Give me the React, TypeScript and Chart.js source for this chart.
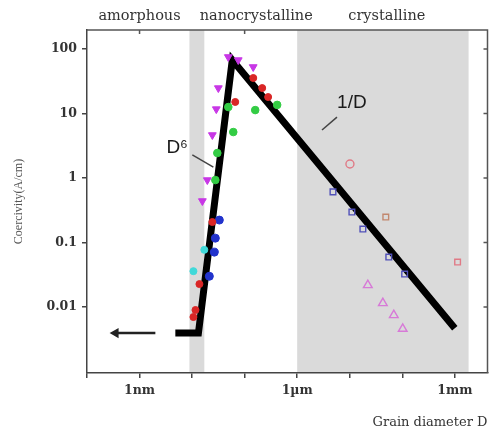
import React, { useEffect, useRef } from 'react';
import { Chart, registerables } from 'chart.js';

Chart.register(...registerables);

// ---- axes ----
const xTickValues = [0.1, 1, 10, 100, 1e3, 1e4, 1e5, 1e6];
const xLabelValues = [1, 1e3, 1e6];
const xLabelTexts = ['1nm', '1µm', '1mm'];
const xMin = 0.1;
const xMax = 4.19e6;
const yTickValues = [0.01, 0.1, 1, 10, 100];
const yTickLabels = ['0.01', '0.1', '1', '10', '100'];
const yMin = 0.00095;
const yMax = 197;
const topTickValues = [1, 100];

// ---- shaded regions & their labels ----
const bandStarts = [8.9, 1000];
const bandEnds = [17.1, 1.83e6];
const regionLabels = ['amorphous', 'nanocrystalline', 'crystalline'];
const regionLabelX = [1, 166, 50800];

// ---- measured series ----
const magentaX = [48.9, 75.6, 145.6, 31.6, 28.9, 24.3, 19.5, 15.7];
const magentaY = [75.2, 67.4, 52.6, 24.8, 11.7, 4.64, 0.93, 0.44];
const redX = [66.3, 146, 216, 280, 24.3, 13.8, 11.6, 10.6];
const redY = [15.1, 35.5, 24.8, 18.0, 0.208, 0.0227, 0.009, 0.007];
const greenX = [48.9, 159, 416, 60.8, 30.2, 27.7];
const greenY = [12.6, 11.3, 13.6, 5.16, 2.44, 0.93];
const blueX = [33.0, 27.7, 26.5, 21.3];
const blueY = [0.223, 0.117, 0.071, 0.03];
const cyanX = [17.1, 10.6];
const cyanY = [0.077, 0.036];
const openBlueX = [4800, 11000, 17800, 55400, 111000];
const openBlueY = [0.61, 0.297, 0.162, 0.0596, 0.0325];
const openRedCircleX = [10100];
const openRedCircleY = [1.65];
const crossSquareX = [48600];
const crossSquareY = [0.248];
const openRedSquareX = [1.13e6];
const openRedSquareY = [0.0499];
const pinkTriX = [22100, 42700, 69000, 102000];
const pinkTriY = [0.0219, 0.0115, 0.0075, 0.0046];

// ---- model curve (flat, D^6, 1/D) ----
const modelX = [4.8, 13.2, 58.2, 1e6];
const modelY = [0.00395, 0.00395, 67.4, 0.0047];

// ---- annotations ----
const arrowX = [2.0, 0.35];
const arrowY = [0.00395, 0.00395];
const d6PointerX = [10.1, 25.4];
const d6PointerY = [2.28, 1.48];
const invPointerX = [5720, 2970];
const invPointerY = [8.8, 5.55];
const noteTexts = ['D⁶', '1/D'];
const noteX = [5.2, 11000];
const noteY = [2.92, 14.6];

const pts = (xs: number[], ys: number[]) => xs.map((x, i) => ({ x, y: ys[i] }));

const overlay = {
  id: 'overlay',
  beforeDraw(chart: any) {
    const { ctx, chartArea: a, scales } = chart;
    const x = scales.x;
    ctx.save();
    ctx.fillStyle = '#dadada';
    bandStarts.forEach((s, i) => {
      const x0 = x.getPixelForValue(s);
      const x1 = x.getPixelForValue(bandEnds[i]);
      ctx.fillRect(x0, a.top, x1 - x0, a.bottom - a.top);
    });
    ctx.restore();
  },
  afterDraw(chart: any) {
    const { ctx, chartArea: a, scales } = chart;
    const x = scales.x;
    const y = scales.y;
    ctx.save();
    ctx.strokeStyle = '#555';
    ctx.lineWidth = 1.5;
    ctx.beginPath();
    ctx.moveTo(a.left, a.top);
    ctx.lineTo(a.right, a.top);
    ctx.lineTo(a.right, a.bottom);
    yTickValues.forEach((v) => {
      const py = y.getPixelForValue(v);
      ctx.moveTo(a.right, py);
      ctx.lineTo(a.right - 4, py);
    });
    topTickValues.forEach((v) => {
      const px = x.getPixelForValue(v);
      ctx.moveTo(px, a.top);
      ctx.lineTo(px, a.top + 4);
    });
    ctx.stroke();

    ctx.fillStyle = '#333';
    ctx.font = '14.5px "DejaVu Serif"';
    ctx.textAlign = 'center';
    ctx.textBaseline = 'middle';
    regionLabels.forEach((t, i) => {
      ctx.fillText(t, x.getPixelForValue(regionLabelX[i]), a.top - 14);
    });

    ctx.fillStyle = '#1a1a1a';
    ctx.font = '19px "Liberation Sans"';
    noteTexts.forEach((t, i) => {
      ctx.fillText(t, x.getPixelForValue(noteX[i]), y.getPixelForValue(noteY[i]));
    });
    ctx.restore();
  },
};

export default function App() {
  const ref = useRef<HTMLCanvasElement>(null);
  useEffect(() => {
    if (!ref.current) return;
    const filled = (label: string, xs: number[], ys: number[], color: string, style: string, r: number, rot = 0) => ({
      type: 'scatter' as const,
      label,
      data: pts(xs, ys),
      pointStyle: style,
      pointRotation: rot,
      pointRadius: r,
      pointBackgroundColor: color,
      pointBorderColor: color,
      pointBorderWidth: 1,
      showLine: false,
      order: 1,
    });
    const open = (label: string, xs: number[], ys: number[], color: string, style: string, r: number) => ({
      type: 'scatter' as const,
      label,
      data: pts(xs, ys),
      pointStyle: style,
      pointRadius: r,
      pointBackgroundColor: 'rgba(0,0,0,0)',
      pointBorderColor: color,
      pointBorderWidth: 1.4,
      showLine: false,
      order: 1,
    });
    const chart = new Chart(ref.current, {
      type: 'scatter',
      data: {
        datasets: [
          filled('magenta', magentaX, magentaY, '#c837e6', 'triangle', 4.5, 180),
          filled('red', redX, redY, '#d92626', 'circle', 3.5),
          filled('green', greenX, greenY, '#33cc44', 'circle', 3.8),
          filled('blue', blueX, blueY, '#2233cc', 'circle', 4),
          filled('cyan', cyanX, cyanY, '#3fd9d9', 'circle', 3.5),
          open('openBlue', openBlueX, openBlueY, '#5050b8', 'rect', 4),
          open('openRedCircle', openRedCircleX, openRedCircleY, '#e07a86', 'circle', 4),
          open('crossSquare', crossSquareX, crossSquareY, '#c2876e', 'rect', 4),
          open('openRedSquare', openRedSquareX, openRedSquareY, '#e07a86', 'rect', 4),
          open('pinkTri', pinkTriX, pinkTriY, '#d77ad7', 'triangle', 5),
          {
            type: 'line' as const,
            label: 'model',
            data: pts(modelX, modelY),
            borderColor: '#000',
            borderWidth: 7,
            borderJoinStyle: 'miter',
            borderCapStyle: 'butt',
            pointRadius: 0,
            tension: 0,
            fill: false,
            order: 5,
          },
          {
            type: 'line' as const,
            label: 'arrow',
            data: pts(arrowX, arrowY),
            borderColor: '#222',
            borderWidth: 2.5,
            pointRadius: [0, 3.5],
            pointStyle: 'triangle',
            pointRotation: -90,
            pointBackgroundColor: '#222',
            pointBorderColor: '#222',
            fill: false,
            order: 4,
          },
          {
            type: 'line' as const,
            label: 'd6Pointer',
            data: pts(d6PointerX, d6PointerY),
            borderColor: '#444',
            borderWidth: 1.5,
            pointRadius: 0,
            fill: false,
            order: 4,
          },
          {
            type: 'line' as const,
            label: 'invPointer',
            data: pts(invPointerX, invPointerY),
            borderColor: '#444',
            borderWidth: 1.5,
            pointRadius: 0,
            fill: false,
            order: 4,
          },
        ] as any,
      },
      options: {
        animation: false,
        responsive: false,
        layout: { padding: { top: 30, right: 6, left: 0, bottom: 0 } },
        plugins: { legend: { display: false }, tooltip: { enabled: false } },
        scales: {
          x: {
            type: 'logarithmic',
            min: xMin,
            max: xMax,
            afterBuildTicks: (s: any) => {
              s.ticks = xTickValues.map((v) => ({ value: v }));
            },
            afterFit: (s: any) => {
              s.height = 60;
            },
            ticks: {
              autoSkip: false,
              maxRotation: 0,
              padding: 5,
              color: '#333',
              font: { family: 'DejaVu Serif', size: 12.5, weight: 'bold' },
              callback: (v: any) => {
                const i = xLabelValues.findIndex((l) => Math.abs(Math.log10(l) - Math.log10(Number(v))) < 1e-6);
                return i >= 0 ? xLabelTexts[i] : '';
              },
            },
            grid: { drawOnChartArea: false, drawTicks: true, tickLength: 5, color: '#444', lineWidth: 1.5 },
            border: { color: '#444', width: 1.5 },
            title: {
              display: true,
              text: 'Grain diameter D',
              align: 'end',
              color: '#333',
              font: { family: 'DejaVu Serif', size: 13 },
              padding: { top: 0, bottom: 3 },
            },
          },
          y: {
            type: 'logarithmic',
            min: yMin,
            max: yMax,
            afterBuildTicks: (s: any) => {
              s.ticks = yTickValues.map((v) => ({ value: v }));
            },
            afterFit: (s: any) => {
              s.width = 87;
            },
            ticks: {
              autoSkip: false,
              padding: 5,
              color: '#333',
              font: { family: 'DejaVu Serif', size: 12.5, weight: 'bold' },
              callback: (v: any) => {
                const i = yTickValues.findIndex((l) => Math.abs(Math.log10(l) - Math.log10(Number(v))) < 1e-6);
                return i >= 0 ? yTickLabels[i] : '';
              },
            },
            grid: { drawOnChartArea: false, drawTicks: true, tickLength: 5, color: '#444', lineWidth: 1.5 },
            border: { color: '#444', width: 1.5 },
            title: {
              display: true,
              text: 'Coercivity(A/cm)',
              color: '#555',
              font: { family: 'Liberation Serif', size: 12 },
              padding: { top: 12, bottom: 0 },
            },
          },
        },
      } as any,
      plugins: [overlay],
    });
    return () => chart.destroy();
  }, []);
  return (
    <div style={{ position: 'absolute', left: 0, top: 0, width: 494, height: 433 }}>
      <canvas ref={ref} width={494} height={433} style={{ display: 'block' }} />
    </div>
  );
}
